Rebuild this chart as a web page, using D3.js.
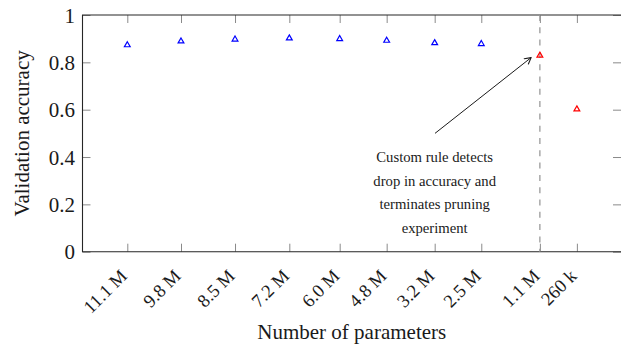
<!DOCTYPE html>
<html>
<head>
<meta charset="utf-8">
<script src="https://cdn.jsdelivr.net/npm/d3@7"></script>
<style>
  html, body { margin: 0; padding: 0; background: #fff; }
  svg { display: block; }
  svg text { font-family: "Liberation Serif", "Times New Roman", serif !important; fill: #1a1a1a; }
</style>
</head>
<body>
<svg id="chart" width="621" height="347" font-family="Liberation Serif, serif"></svg>
<script>
// ---- data ----
const paramLabels = ["11.1 M", "9.8 M", "8.5 M", "7.2 M", "6.0 M", "4.8 M", "3.2 M", "2.5 M", "1.1 M", "260 k"];
const pruneStep   = [0, 1, 2.006, 3.017, 3.955, 4.83, 5.724, 6.592, 7.683, 8.372];
const accuracy    = [0.873, 0.889, 0.897, 0.902, 0.899, 0.892, 0.882, 0.878, 0.829, 0.602];
const status      = ["kept", "kept", "kept", "kept", "kept", "kept", "kept", "kept", "dropped", "dropped"];
const yTicks      = [0, 0.2, 0.4, 0.6, 0.8, 1];
const yTickLabels = ["0", "0.2", "0.4", "0.6", "0.8", "1"];
const noteLines   = ["Custom rule detects", "drop in accuracy and", "terminates pruning", "experiment"];
const noteX       = 5.724;
const noteYs      = [0.4, 0.3, 0.2, 0.1];
const arrowFrom   = [5.73, 0.5];
const arrowTo     = [7.52, 0.82];
const stopIndex   = 8;
const xTitle = "Number of parameters";
const yTitle = "Validation accuracy";

// ---- layout ----
const FONT = '"Liberation Serif", serif';
const svg = d3.select("#chart");
const L = 82.5, R = 621, T = 15, B = 251.7;
const x = d3.scaleLinear().domain([(L - 127.3) / 53.7, (R - 127.3) / 53.7]).range([L, R]);
const y = d3.scaleLinear().domain([0, 1]).range([B, T]);
const color = d3.scaleOrdinal().domain(["kept", "dropped"]).range(["#0000ff", "#ff0000"]);

const tickColor = "#8a8a8a";
function styleAxis(g) {
  g.attr("font-family", null);
  g.select(".domain").remove();
  g.selectAll(".tick line").attr("stroke", tickColor).attr("stroke-width", 1);
}

// bottom axis
svg.append("g").attr("transform", `translate(0,${B})`)
  .call(d3.axisBottom(x).tickValues(pruneStep).tickSize(-8).tickFormat(""))
  .call(styleAxis);
// top axis
svg.append("g").attr("transform", `translate(0,${T})`)
  .call(d3.axisTop(x).tickValues(pruneStep).tickSize(-8).tickFormat(""))
  .call(styleAxis);
// left axis
const ya = svg.append("g").attr("transform", `translate(${L},0)`)
  .call(d3.axisLeft(y).tickValues(yTicks).tickSize(-8).tickPadding(7.5)
    .tickFormat((d, i) => yTickLabels[i]))
  .call(styleAxis);
ya.selectAll(".tick text").attr("font-size", 21).attr("fill", "#1a1a1a")
  .style("font-family", FONT).attr("dy", "0.34em");
// right axis
svg.append("g").attr("transform", `translate(${R},0)`)
  .call(d3.axisRight(y).tickValues(yTicks).tickSize(-8).tickFormat(""))
  .call(styleAxis);

// x tick labels rotated
svg.append("g").selectAll("text").data(paramLabels).join("text")
  .attr("transform", (d, i) => `translate(${x(pruneStep[i]) - 3.5},${B + 21}) rotate(-45)`)
  .attr("text-anchor", "end")
  .attr("dy", "0.34em")
  .attr("font-size", 18.5)
  .style("font-family", FONT)
  .text(d => d);

// frame
svg.append("path")
  .attr("d", `M${R},${T}H${L}V${B}H${R}`)
  .attr("fill", "none").attr("stroke", "#262626").attr("stroke-width", 1.1);

// dashed stop line
svg.append("line")
  .attr("x1", x(pruneStep[stopIndex])).attr("x2", x(pruneStep[stopIndex]))
  .attr("y1", y(1)).attr("y2", y(0))
  .attr("stroke", "#9a9a9a").attr("stroke-width", 1.3)
  .attr("stroke-dasharray", "6,6.3");

// markers
svg.append("g").selectAll("path").data(accuracy).join("path")
  .attr("transform", (d, i) => `translate(${x(pruneStep[i])},${y(d)})`)
  .attr("d", d3.symbol(d3.symbolTriangle, 14.5))
  .attr("fill", "none")
  .attr("stroke", (d, i) => color(status[i]))
  .attr("stroke-width", 1.2);

// annotation arrow
const ax1 = x(arrowFrom[0]), ay1 = y(arrowFrom[1]);
const ax2 = x(arrowTo[0]), ay2 = y(arrowTo[1]);
svg.append("line")
  .attr("x1", ax1).attr("y1", ay1).attr("x2", ax2).attr("y2", ay2)
  .attr("stroke", "#1a1a1a").attr("stroke-width", 1);
const ang = Math.atan2(ay2 - ay1, ax2 - ax1);
const hl = 7, ha = 0.5;
svg.append("path")
  .attr("d", `M${ax2 - hl * Math.cos(ang - ha)},${ay2 - hl * Math.sin(ang - ha)}L${ax2},${ay2}L${ax2 - hl * Math.cos(ang + ha)},${ay2 - hl * Math.sin(ang + ha)}`)
  .attr("fill", "none").attr("stroke", "#1a1a1a").attr("stroke-width", 1.1)
  .attr("stroke-linejoin", "round").attr("stroke-linecap", "round");

// annotation text
svg.append("g").selectAll("text").data(noteLines).join("text")
  .attr("x", x(noteX))
  .attr("y", (d, i) => y(noteYs[i]))
  .attr("dy", "0.34em")
  .attr("text-anchor", "middle")
  .attr("font-size", 14.7)
  .style("font-family", FONT)
  .text(d => d);

// axis titles
svg.append("text")
  .attr("x", (L + R) / 2).attr("y", 339)
  .attr("text-anchor", "middle").attr("font-size", 21)
  .style("font-family", FONT)
  .text(xTitle);
svg.append("text")
  .attr("transform", `translate(29,${(T + B) / 2}) rotate(-90)`)
  .attr("text-anchor", "middle").attr("font-size", 21)
  .style("font-family", FONT)
  .text(yTitle);
</script>
</body>
</html>
